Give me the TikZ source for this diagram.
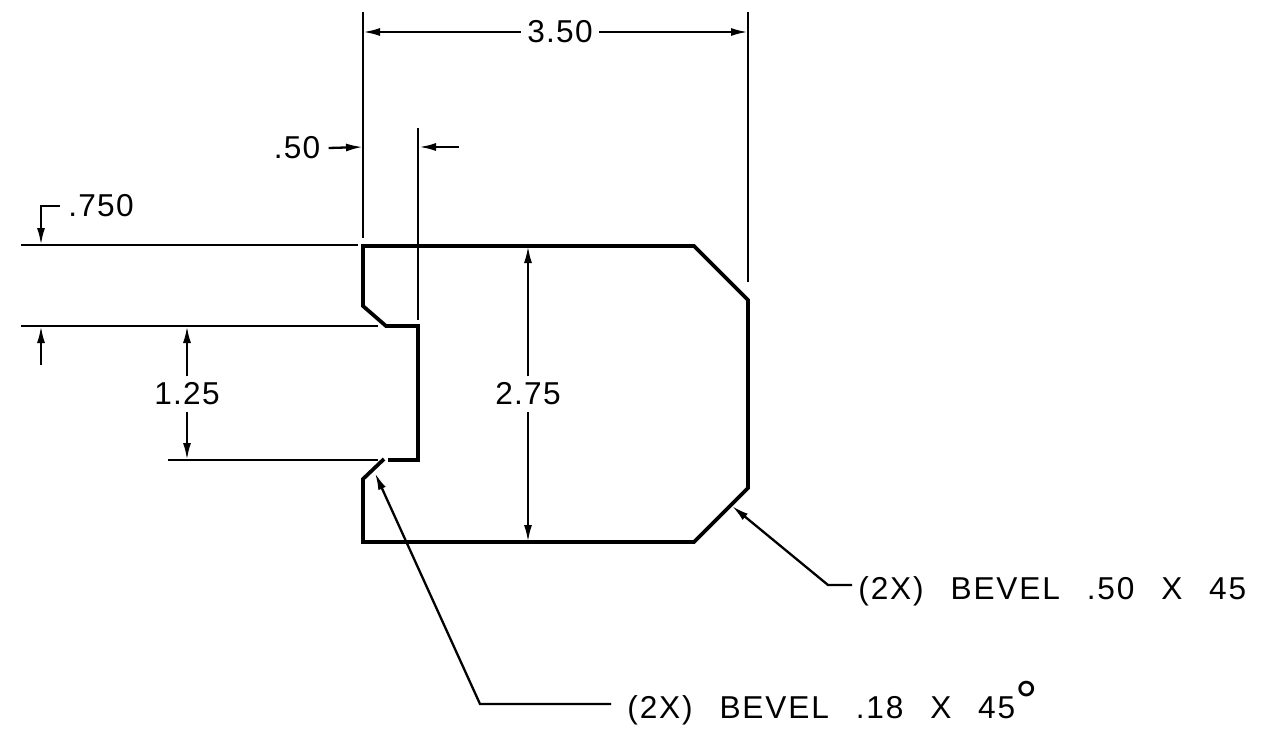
\documentclass[tikz,border=0pt]{standalone}
\usepackage{fontspec}
\setmainfont{Liberation Sans}
\newfontfamily\dimfont[LetterSpace=4]{Liberation Sans}
\newfontfamily\notefont[LetterSpace=6,WordSpace=2.5]{Liberation Sans}
\usetikzlibrary{arrows.meta}
\usetikzlibrary{positioning}

\begin{document}
\begin{tikzpicture}[x=0.2mm, y=-0.2mm, >={Latex[length=3.4mm,width=1.6mm]}]
	\tikzstyle{profile} = [line width=0.75mm, line join=miter];
	\tikzstyle{thin line} = [line width=0.46mm];
	\tikzstyle{dim label} = [inner sep=0pt, font=\dimfont\fontsize{18}{20}\selectfont];
	\tikzstyle{note label} = [inner sep=0pt, anchor=base west, font=\notefont\fontsize{18}{20}\selectfont];

	\useasboundingbox (0,0) rectangle (1273,740);

	% outline of the part
	\coordinate (p_0) at (363,246);
	\coordinate (p_1) at (694,246);
	\coordinate (p_2) at (748,300);
	\coordinate (p_3) at (748,488);
	\coordinate (p_4) at (694,542);
	\coordinate (p_5) at (363,542);
	\coordinate (p_6) at (363,479);
	\coordinate (p_7) at (384,459);
	\coordinate (p_8) at (388,460);
	\coordinate (p_9) at (418,460);
	\coordinate (p_10) at (418,326);
	\coordinate (p_11) at (386,326);
	\coordinate (p_12) at (363,306);

	\draw [profile] (p_7) -- (p_6) -- (p_5) -- (p_4) -- (p_3) -- (p_2) -- (p_1) -- (p_0) -- (p_12) -- (p_11) -- (p_10) -- (p_9) -- (p_8);

	% extension lines
	\coordinate (e_0) at (363,12);
	\coordinate (e_1) at (363,238);
	\coordinate (e_2) at (418,128);
	\coordinate (e_3) at (418,320);
	\coordinate (e_4) at (748,12);
	\coordinate (e_5) at (748,282);
	\coordinate (e_6) at (21,245);
	\coordinate (e_7) at (358,245);
	\coordinate (e_8) at (21,326);
	\coordinate (e_9) at (378,326);
	\coordinate (e_10) at (168,460);
	\coordinate (e_11) at (378,460);

	\draw [thin line] (e_0) -- (e_1);
	\draw [thin line] (e_2) -- (e_3);
	\draw [thin line] (e_4) -- (e_5);
	\draw [thin line] (e_6) -- (e_7);
	\draw [thin line] (e_8) -- (e_9);
	\draw [thin line] (e_10) -- (e_11);

	% dimensions
	\node [dim label] (d_350) at (560,32) {3.50};
	\node [dim label] (d_50) at (297,148) {.50};
	\node [dim label, anchor=west] (d_750) at (68,206) {.750};
	\node [dim label] (d_125) at (187,394) {1.25};
	\node [dim label] (d_275) at (528,394) {2.75};

	\coordinate (a_0) at (363,32);
	\coordinate (a_1) at (748,32);
	\coordinate (a_2) at (363,147);
	\coordinate (a_3) at (419,147);
	\coordinate (a_4) at (459,147);
	\coordinate (a_5) at (41,206);
	\coordinate (a_6) at (41,245);
	\coordinate (a_7) at (41,365);
	\coordinate (a_8) at (41,326);
	\coordinate (a_9) at (187,326);
	\coordinate (a_10) at (187,460);
	\coordinate (a_11) at (528,246);
	\coordinate (a_12) at (528,542);

	\draw [thin line, ->] (d_350.west) ++(-6,0) -- (a_0);
	\draw [thin line, ->] (d_350.east) ++(6,0) -- (a_1);
	\draw [thin line, ->] (d_50.east) ++(8,0) -- (a_2);
	\draw [thin line, ->] (a_4) -- (a_3);
	\draw [thin line, ->] (d_750.west) ++(-8,0) -- (a_5) -- (a_6);
	\draw [thin line, ->] (a_7) -- (a_8);
	\draw [thin line, ->] (d_125.north) ++(0,-6) -- (a_9);
	\draw [thin line, ->] (d_125.south) ++(0,6) -- (a_10);
	\draw [thin line, ->] (d_275.north) ++(0,-6) -- (a_11);
	\draw [thin line, ->] (d_275.south) ++(0,6) -- (a_12);

	% bevel notes
	\node [note label] (n_50) at (858,599) {(2X) BEVEL .50 X 45};
	\node [note label] (n_18) at (627,718) {(2X) BEVEL .18 X 45\raisebox{-0.4mm}{\fontsize{32}{32}\selectfont °}};

	\coordinate (l_0) at (828,585);
	\coordinate (l_1) at (852,585);
	\coordinate (l_2) at (732,506);
	\coordinate (l_3) at (480,704);
	\coordinate (l_4) at (611,704);
	\coordinate (l_5) at (375,473);

	\draw [thin line, ->] (l_1) -- (l_0) -- (l_2);
	\draw [thin line, ->] (l_4) -- (l_3) -- (l_5);
\end{tikzpicture}
\end{document}
